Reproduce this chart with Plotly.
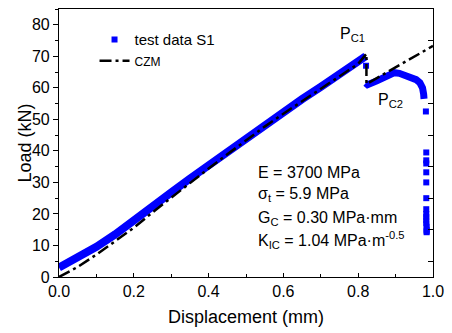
import plotly.graph_objects as go

# ---- data ----
# test data S1: loading branch (dense squares form a thick band)
s1_load_x = [0.0, 0.05, 0.1, 0.15, 0.2, 0.25, 0.3, 0.35, 0.4, 0.45, 0.5, 0.55, 0.6, 0.65, 0.7, 0.75, 0.8, 0.82]
s1_load_y = [3.0, 6.0, 9.6, 13.5, 17.7, 22.3, 26.8, 31.2, 35.5, 39.8, 44.1, 48.3, 52.4, 56.4, 60.3, 64.1, 68.0, 70.0]
# isolated point just after first peak
s1_drop_x = [0.821]
s1_drop_y = [67.0]
# test data S1: post-peak branch
s1_post_x = [0.82, 0.825, 0.85, 0.875, 0.897, 0.91, 0.925, 0.94, 0.955, 0.965, 0.972, 0.975, 0.976]
s1_post_y = [61.5, 61.0, 62.2, 63.5, 64.8, 64.6, 63.9, 63.4, 62.6, 61.6, 60.0, 58.0, 56.5]
# test data S1: final failure points
s1_tail_x = [0.981, 0.982, 0.982, 0.982, 0.982, 0.982, 0.982, 0.982, 0.982, 0.982, 0.982, 0.982, 0.983, 0.983, 0.983, 0.983]
s1_tail_y = [52.5, 39.5, 37.0, 36.0, 33.2, 30.0, 25.0, 21.5, 20.0, 19.0, 18.0, 17.0, 16.0, 15.0, 14.5, 14.2]

# CZM prediction
czm_x = [0.0, 0.05, 0.1, 0.15, 0.2, 0.25, 0.3, 0.35, 0.4, 0.45, 0.5, 0.55, 0.6, 0.65, 0.7, 0.75, 0.8, 0.822, 0.822, 1.0]
czm_y = [0.0, 3.2, 7.1, 11.3, 15.6, 20.5, 25.2, 29.9, 34.4, 38.9, 43.4, 47.7, 51.8, 55.8, 59.7, 63.6, 67.6, 70.8, 61.2, 73.3]

x_ticks = [0.0, 0.2, 0.4, 0.6, 0.8, 1.0]
x_ticklabels = ["0.0", "0.2", "0.4", "0.6", "0.8", "1.0"]
y_ticks = [0, 10, 20, 30, 40, 50, 60, 70, 80]
y_right_ticks = [5, 15, 25, 35, 45, 55, 65, 75, 85]

params = [
    "E = 3700 MPa",
    "σ<sub>t</sub> = 5.9 MPa",
    "G<sub>C</sub> = 0.30 MPa·mm",
    "K<sub>IC</sub> = 1.04 MPa·m<sup>-0.5</sup>",
]
param_y = [33.0, 26.2, 18.6, 11.6]

FONT = "Liberation Sans, Arial, sans-serif"
BLUE = "#0000FF"

fig = go.Figure()

fig.add_trace(go.Scatter(x=s1_load_x, y=s1_load_y, mode="lines",
                         line=dict(color=BLUE, width=8), showlegend=False,
                         hoverinfo="skip"))
fig.add_trace(go.Scatter(x=s1_post_x, y=s1_post_y, mode="lines",
                         line=dict(color=BLUE, width=7), showlegend=False,
                         hoverinfo="skip"))
fig.add_trace(go.Scatter(x=s1_drop_x + s1_tail_x, y=s1_drop_y + s1_tail_y, mode="markers",
                         marker=dict(symbol="square", color=BLUE, size=6),
                         name='<span style="font-size:15px">test data S1</span>'))
fig.add_trace(go.Scatter(x=czm_x, y=czm_y, mode="lines", yaxis="y2",
                         line=dict(color="black", width=2.5, dash="12px,4px,3px,4px"),
                         name='<span style="font-size:12px">CZM</span>'))

fig.add_annotation(x=0.785, y=77.0, text="P<sub>C1</sub>", showarrow=False,
                   font=dict(size=16, family=FONT, color="black"),
                   xanchor="center", yanchor="middle")
fig.add_annotation(x=0.887, y=56.0, text="P<sub>C2</sub>", showarrow=False,
                   font=dict(size=16, family=FONT, color="black"),
                   xanchor="center", yanchor="middle")
for t, yy in zip(params, param_y):
    fig.add_annotation(x=0.528, y=yy, text=t, showarrow=False,
                       font=dict(size=16, family=FONT, color="black"),
                       xanchor="left", yanchor="middle")

fig.add_annotation(x=-0.092, y=0.5, xref="paper", yref="paper", text="Load (kN)",
                   textangle=-90, showarrow=False,
                   font=dict(size=18, family=FONT, color="black"),
                   xanchor="center", yanchor="middle")

fig.update_layout(
    width=452, height=333,
    margin=dict(l=59, r=12, t=8, b=56),
    paper_bgcolor="white", plot_bgcolor="white",
    font=dict(family=FONT, color="black"),
    showlegend=True,
    legend=dict(x=0.095, y=0.944, xanchor="left", yanchor="top",
                bgcolor="rgba(0,0,0,0)", font=dict(size=14, family=FONT),
                tracegroupgap=0),
    xaxis=dict(range=[0, 1], tickvals=x_ticks, ticktext=x_ticklabels,
               ticks="inside", ticklen=4, tickwidth=1, tickcolor="black",
               minor=dict(dtick=0.1, ticks="inside", ticklen=3, tickcolor="black", showgrid=False),
               showline=True, linecolor="black", linewidth=1.2, mirror=True,
               showgrid=False, zeroline=False,
               tickfont=dict(size=16),
               title=dict(text="Displacement (mm)", font=dict(size=18), standoff=11)),
    yaxis=dict(range=[0, 85], tickvals=y_ticks,
               ticks="outside", ticklen=5, tickwidth=1, tickcolor="black",
               minor=dict(dtick=5, ticks="outside", ticklen=3, tickcolor="black", showgrid=False),
               showline=True, linecolor="black", linewidth=1.2, mirror=True,
               showgrid=False, zeroline=False,
               tickfont=dict(size=16)),
    yaxis2=dict(range=[0, 85], overlaying="y", side="right", anchor="x",
                tickvals=y_right_ticks,
                ticks="inside", ticklen=5, tickwidth=1.2, tickcolor="black",
                showticklabels=False,
                showgrid=False, zeroline=False, showline=True,
                linecolor="black", linewidth=1.2),
)

fig.write_html("out.html")
